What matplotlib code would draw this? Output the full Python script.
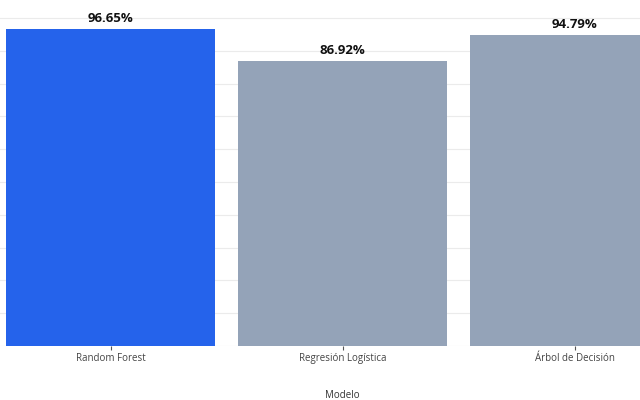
import matplotlib.pyplot as plt

plt.rcParams["font.family"] = ["Open Sans", "DejaVu Sans"]

modelos = ["Random Forest", "Regresión Logística", "Árbol de Decisión"]
precision = [96.65, 86.92, 94.79]
colores = ["#2563EB", "#94A3B8", "#94A3B8"]
etiquetas = ["96.65%", "86.92%", "94.79%"]

fig = plt.figure(figsize=(6.4, 4.0), dpi=100)
# the plot area runs past the left and right figure edges in the original
ax = fig.add_axes([-0.0083, 0.135, 1.0875, 0.865])

x = range(len(modelos))
ax.bar(x, precision, width=0.9, color=colores, zorder=3)
ax.set_xlim(-0.5, 2.5)
ax.set_ylim(0, 105.5)
ax.set_yticks(range(0, 101, 10))
ax.set_yticklabels([])
ax.tick_params(axis="y", length=0)
ax.grid(axis="y", color="#ebebeb", linewidth=0.8, zorder=0)

ax.set_xticks(list(x))
ax.set_xticklabels(modelos, fontsize=7, color="#444444")
ax.tick_params(axis="x", length=3, width=0.8, color="#555555", pad=2)
ax.set_xlabel("Modelo", fontsize=7, color="#333333", labelpad=18.5)

for s in ax.spines.values():
    s.set_visible(False)

for i, v in enumerate(precision):
    ax.text(i, v + 1.2, etiquetas[i], ha="center", va="bottom",
            fontsize=9.5, fontweight="bold", color="#111111")

fig.savefig("out.png", dpi=100)
